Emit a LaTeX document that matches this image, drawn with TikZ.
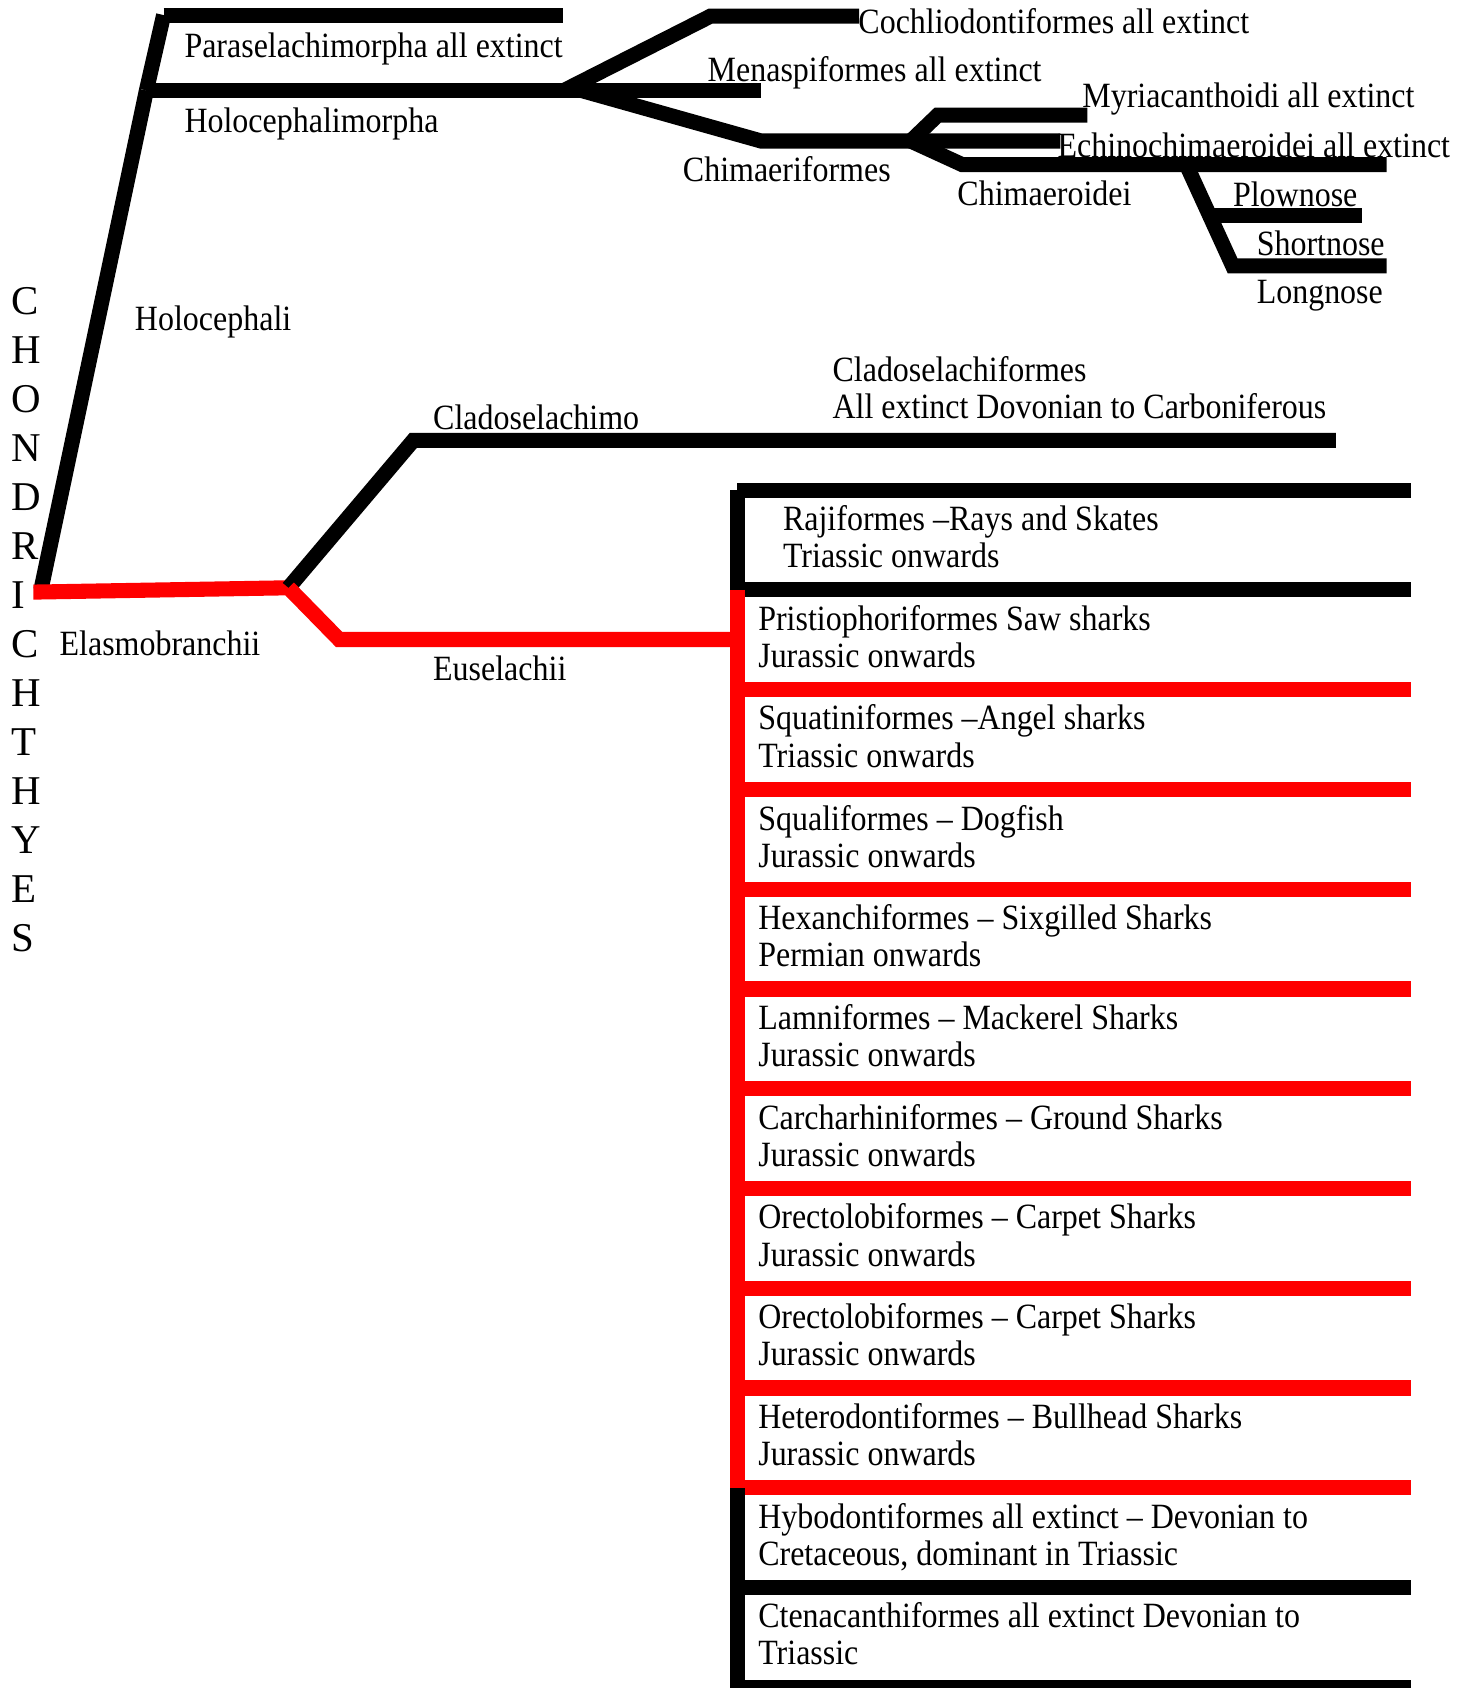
\documentclass[tikz,border=0pt]{standalone}
\usepackage{fontspec}
\setmainfont{Liberation Serif}[FakeStretch=0.9]
\newfontfamily\titlefont{Liberation Serif}

\tikzset{
  blk/.style={line width=7pt, black},
  rd/.style={line width=7pt, red},
  lbl/.style={anchor=base west, inner sep=0pt, font=\fontsize{16.5}{17.25}\selectfont},
  row/.style={lbl, align=left}
}

\begin{document}
\begin{tikzpicture}[x=0.5pt, y=-0.5pt]
    \useasboundingbox (0,0) rectangle (1365,1568);
    \clip (0,0) rectangle (1365,1568);

    % Branch points of the tree
    \coordinate (root) at (38,548);
    \coordinate (hmj) at (136,84);
    \coordinate (ptop) at (152,14);
    \coordinate (pend) at (523,14);
    \coordinate (mend) at (707,84);
    \coordinate (hsplit) at (524,84);
    \coordinate (ctop) at (660,15);
    \coordinate (cend) at (798,15);
    \coordinate (chs) at (540,84);
    \coordinate (chm) at (707,131);
    \coordinate (chsplit) at (846,131);
    \coordinate (echend) at (985,131);
    \coordinate (myr1) at (871,107);
    \coordinate (myrend) at (1010,107);
    \coordinate (chd1) at (894,153);
    \coordinate (chdend) at (1288,153);
    \coordinate (lng1) at (1102,153);
    \coordinate (lng2) at (1145,247);
    \coordinate (shend) at (1288,247);
    \coordinate (plw1) at (1124,200);
    \coordinate (plwend) at (1265,200);
    \coordinate (elas0) at (31,550);
    \coordinate (elas) at (268,546);
    \coordinate (clad1) at (384,409);
    \coordinate (cladend) at (1241,409);
    \coordinate (eus1) at (315,594);
    \coordinate (eus2) at (686,594);

    % Holocephali side
    \draw[blk] (root) -- (hmj);
    \draw[blk] (hmj) -- (ptop);
    \draw[blk] (ptop) -- (pend);
    \draw[blk] (hmj) -- (mend);
    \draw[blk] (hsplit) -- (ctop) -- (cend);
    \draw[blk] (chs) -- (chm) -- (echend);
    \draw[blk] (chsplit) -- (myr1) -- (myrend);
    \draw[blk] (chsplit) -- (chd1) -- (chdend);
    \draw[blk] (lng1) -- (lng2) -- (shend);
    \draw[blk] (plw1) -- (plwend);

    % Elasmobranchii side
    \draw[rd] (elas0) -- (elas);
    \draw[blk] (elas) -- (clad1) -- (cladend);
    \draw[rd] (elas) -- (eus1) -- (eus2);

    % Order rows
    \draw[blk] (685,456) -- (1311,456);
    \draw[blk] (685,548) -- (1311,548);
    \draw[rd] (685,640.7) -- (1311,640.7);
    \draw[rd] (685,733.3) -- (1311,733.3);
    \draw[rd] (685,826) -- (1311,826);
    \draw[rd] (685,918.7) -- (1311,918.7);
    \draw[rd] (685,1011.3) -- (1311,1011.3);
    \draw[rd] (685,1104) -- (1311,1104);
    \draw[rd] (685,1196.7) -- (1311,1196.7);
    \draw[rd] (685,1289.3) -- (1311,1289.3);
    \draw[rd] (685,1382) -- (1311,1382);
    \draw[blk] (685,1474.7) -- (1311,1474.7);
    \draw[blk] (685,1567.3) -- (1311,1567.3);

    % Vertical bar of the rows
    \coordinate (bartop) at (685,455);
    \coordinate (barred) at (685,548);
    \coordinate (barblk) at (685,1382);
    \coordinate (barbot) at (685,1575);
    \draw[blk] (bartop) -- (barred);
    \draw[rd] (barred) -- (barblk);
    \draw[blk] (barblk) -- (barbot);

    % Class name
    \node[anchor=north west, inner sep=0pt, align=left,
          font=\titlefont\fontsize{19}{22.75}\selectfont] (title) at (10,267)
          {C\\H\\O\\N\\D\\R\\I\\C\\H\\T\\H\\Y\\E\\S};

    % Tree labels
    \node[lbl] (para) at (171,53) {Paraselachimorpha all extinct};
    \node[lbl] (holom) at (171,123) {Holocephalimorpha};
    \node[lbl] (cochl) at (797,31) {Cochliodontiformes all extinct};
    \node[lbl] (mena) at (657,76) {Menaspiformes all extinct};
    \node[lbl] (chimf) at (634,169) {Chimaeriformes};
    \node[lbl] (myri) at (1005,100) {Myriacanthoidi all extinct};
    \node[lbl] (echi) at (982,146) {Echinochimaeroidei all extinct};
    \node[lbl] (chimd) at (889,191) {Chimaeroidei};
    \node[lbl] (plow) at (1145,192) {Plownose};
    \node[lbl] (shor) at (1167,237) {Shortnose};
    \node[lbl] (longn) at (1167,282) {Longnose};
    \node[lbl] (holoc) at (125,307) {Holocephali};
    \node[row] (cladf) at (773,389) {Cladoselachiformes\\All extinct Dovonian to Carboniferous};
    \node[lbl] (cladm) at (402,399) {Cladoselachimo};
    \node[lbl] (elasm) at (55,609) {Elasmobranchii};
    \node[lbl] (eusel) at (402,632) {Euselachii};

    % Row labels (anchored on the second line)
    \node[row] (raji) at (727,527.5) {Rajiformes –Rays and Skates\\Triassic onwards};
    \node[row] (prist) at (704,620) {Pristiophoriformes Saw sharks\\Jurassic onwards};
    \node[row] (squat) at (704,712.5) {Squatiniformes –Angel sharks\\Triassic onwards};
    \node[row] (squal) at (704,805.5) {Squaliformes – Dogfish\\Jurassic onwards};
    \node[row] (hexan) at (704,898) {Hexanchiformes – Sixgilled Sharks\\Permian onwards};
    \node[row] (lamni) at (704,990.5) {Lamniformes – Mackerel Sharks\\Jurassic onwards};
    \node[row] (carch) at (704,1083.5) {Carcharhiniformes – Ground Sharks\\Jurassic onwards};
    \node[row] (orecta) at (704,1176) {Orectolobiformes – Carpet Sharks\\Jurassic onwards};
    \node[row] (orectb) at (704,1268.5) {Orectolobiformes – Carpet Sharks\\Jurassic onwards};
    \node[row] (heter) at (704,1361.5) {Heterodontiformes – Bullhead Sharks\\Jurassic onwards};
    \node[row] (hybod) at (704,1454) {Hybodontiformes all extinct – Devonian to\\Cretaceous, dominant in Triassic};
    \node[row] (ctena) at (704,1546.5) {Ctenacanthiformes all extinct Devonian to\\Triassic};
\end{tikzpicture}
\end{document}
